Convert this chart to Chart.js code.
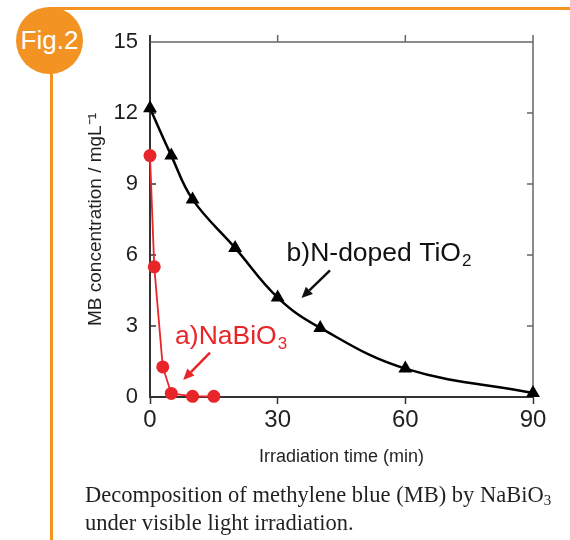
<!DOCTYPE html>
<html><head><meta charset="utf-8">
<script src="https://cdn.jsdelivr.net/npm/chart.js@4.4.1/dist/chart.umd.min.js"></script>
<style>
html,body{margin:0;padding:0;background:#fff;}
body{width:570px;height:540px;position:relative;overflow:hidden;font-family:'Liberation Sans',Arial,sans-serif;}
.hline{position:absolute;left:50px;top:7px;width:520px;height:3px;background:#F39323;}
.vline{position:absolute;left:49.5px;top:40px;width:3px;height:500px;background:#F39323;}
.badge{position:absolute;left:16px;top:7px;width:67px;height:67px;border-radius:50%;background:#F39323;color:#fff;font-size:26px;line-height:67px;text-align:center;}
.caption{position:absolute;left:85px;top:481px;font-family:'Liberation Serif','Times New Roman',serif;font-size:22.5px;line-height:28px;color:#231f20;white-space:nowrap;}
.caption sub{font-size:15px;vertical-align:-3px;line-height:0;}
#c{position:absolute;left:0;top:0;}
</style>
</head><body>
<div class="hline"></div>
<div class="vline"></div>
<div class="badge">Fig.2</div>
<canvas id="c" width="570" height="540"></canvas>
<div class="caption">Decomposition of methylene blue (MB) by NaBiO<sub>3</sub><br>under visible light irradiation.</div>
<script>
// ---- data ----
const timeTiO2 = [0, 5, 10, 20, 30, 40, 60, 90];           // min
const concTiO2 = [12.2, 10.2, 8.35, 6.3, 4.2, 2.92, 1.2, 0.17]; // mg/L
const timeNaBiO3 = [0, 1, 3, 5, 10, 15];
const concNaBiO3 = [10.2, 5.5, 1.27, 0.15, 0.03, 0.03];
const xTicks = [0, 30, 60, 90];
const yTicks = [0, 3, 6, 9, 12, 15];
const xTitle = 'Irradiation time (min)';
const yTitle = 'MB concentration / mgL\u207B\u00B9';

// annotation anchors (data units)
const noteTiO2 = {text: 'b)N-doped TiO', sub: '2', x: 32.1, y: 5.73, color: '#111111',
  arrowFrom: [42.3, 5.35], arrowTo: [35.6, 4.18]};
const noteNaBiO3 = {text: 'a)NaBiO', sub: '3', x: 5.9, y: 2.25, color: '#e8262a',
  arrowFrom: [14.1, 1.88], arrowTo: [7.8, 0.72]};

const FONT = "'Liberation Sans', Arial, sans-serif";
const TXT = '#231f20';

const framePlugin = {
  id: 'frame',
  beforeDatasetsDraw(chart) {
    const {ctx, chartArea: a, scales: {x, y}} = chart;
    ctx.save();
    ctx.lineCap = 'butt';
    ctx.strokeStyle = '#666';
    ctx.lineWidth = 1.5;
    ctx.beginPath();
    ctx.moveTo(a.left, a.top); ctx.lineTo(a.right, a.top);
    ctx.moveTo(a.right, a.top - 7); ctx.lineTo(a.right, a.bottom);
    ctx.stroke();
    ctx.beginPath();
    xTicks.forEach(v => { if (v > 0 && v < 90) { const px = x.getPixelForValue(v); ctx.moveTo(px, a.top); ctx.lineTo(px, a.top - 7); } });
    ctx.stroke();
    ctx.beginPath();
    yTicks.forEach(v => { if (v > 0 && v < 15) { const py = y.getPixelForValue(v); ctx.moveTo(a.right, py); ctx.lineTo(a.right - 6, py); } });
    ctx.stroke();
    ctx.strokeStyle = '#333';
    ctx.lineWidth = 2;
    ctx.beginPath();
    ctx.moveTo(a.left, a.top - 7); ctx.lineTo(a.left, a.top);
    ctx.stroke();
    ctx.lineWidth = 1.5;
    ctx.beginPath();
    yTicks.forEach(v => { if (v > 0 && v < 15) { const py = y.getPixelForValue(v); ctx.moveTo(a.left, py); ctx.lineTo(a.left + 6, py); } });
    ctx.stroke();
    ctx.restore();
  }
};

function drawArrow(ctx, x1, y1, x2, y2, color) {
  const ang = Math.atan2(y2 - y1, x2 - x1);
  const hl = 11, hw = 5;
  const bx = x2 - hl * Math.cos(ang), by = y2 - hl * Math.sin(ang);
  ctx.strokeStyle = color; ctx.fillStyle = color; ctx.lineWidth = 2.5;
  ctx.beginPath(); ctx.moveTo(x1, y1); ctx.lineTo(bx, by); ctx.stroke();
  ctx.beginPath();
  ctx.moveTo(x2, y2);
  ctx.lineTo(bx + hw * Math.sin(ang), by - hw * Math.cos(ang));
  ctx.lineTo(bx - hw * Math.sin(ang), by + hw * Math.cos(ang));
  ctx.closePath(); ctx.fill();
}

const notePlugin = {
  id: 'notes',
  afterDatasetsDraw(chart) {
    const {ctx, scales: {x, y}} = chart;
    ctx.save();
    [noteTiO2, noteNaBiO3].forEach(n => {
      const px = x.getPixelForValue(n.x), py = y.getPixelForValue(n.y);
      ctx.fillStyle = n.color;
      ctx.textBaseline = 'alphabetic';
      ctx.textAlign = 'left';
      ctx.font = '26.5px ' + FONT;
      ctx.fillText(n.text, px, py);
      const w = ctx.measureText(n.text).width;
      ctx.font = '17px ' + FONT;
      ctx.fillText(n.sub, px + w + 1, py + 5);
      drawArrow(ctx, x.getPixelForValue(n.arrowFrom[0]), y.getPixelForValue(n.arrowFrom[1]),
        x.getPixelForValue(n.arrowTo[0]), y.getPixelForValue(n.arrowTo[1]), n.color);
    });
    ctx.restore();
  }
};

new Chart(document.getElementById('c'), {
  type: 'scatter',
  data: {
    datasets: [
      {
        label: 'a)NaBiO3',
        data: timeNaBiO3.map((t, i) => ({x: t, y: concNaBiO3[i]})),
        showLine: true,
        borderColor: '#e8262a',
        backgroundColor: '#e8262a',
        borderWidth: 1.8,
        pointStyle: 'circle',
        pointRadius: 6.5,
        pointBorderWidth: 0,
        tension: 0,
        clip: false
      },
      {
        label: 'b)N-doped TiO2',
        data: timeTiO2.map((t, i) => ({x: t, y: concTiO2[i]})),
        showLine: true,
        borderColor: '#000',
        backgroundColor: '#000',
        borderWidth: 2.5,
        pointStyle: 'triangle',
        pointRadius: 8,
        pointBorderWidth: 0,
        tension: 0.4,
        clip: false
      }
    ]
  },
  options: {
    responsive: false,
    animation: false,
    devicePixelRatio: 1,
    layout: {padding: {left: 0, right: 37, top: 42, bottom: 0}},
    plugins: {legend: {display: false}, tooltip: {enabled: false}},
    scales: {
      x: {
        type: 'linear', min: 0, max: 90,
        afterFit: s => { s.height = 143; },
        afterBuildTicks: s => { s.ticks = xTicks.map(v => ({value: v})); },
        grid: {drawOnChartArea: false, drawTicks: true, tickLength: 7, tickColor: '#333', tickWidth: 1.5},
        border: {display: true, color: '#333', width: 2},
        ticks: {color: TXT, font: {family: FONT, size: 24}, padding: 2, maxRotation: 0},
        title: {display: true, text: xTitle, color: TXT, font: {family: FONT, size: 18}, padding: {top: 0, bottom: 72}}
      },
      y: {
        type: 'linear', min: 0, max: 15,
        afterFit: s => { s.width = 150; },
        afterBuildTicks: s => { s.ticks = yTicks.map(v => ({value: v})); },
        grid: {drawOnChartArea: false, drawTicks: false},
        border: {display: true, color: '#333', width: 2},
        ticks: {color: TXT, font: {family: FONT, size: 22}, padding: 12},
        title: {display: true, text: yTitle, color: TXT, font: {family: FONT, size: 19}, padding: {top: 84, bottom: 0}}
      }
    }
  },
  plugins: [framePlugin, notePlugin]
});
</script>
</body></html>
